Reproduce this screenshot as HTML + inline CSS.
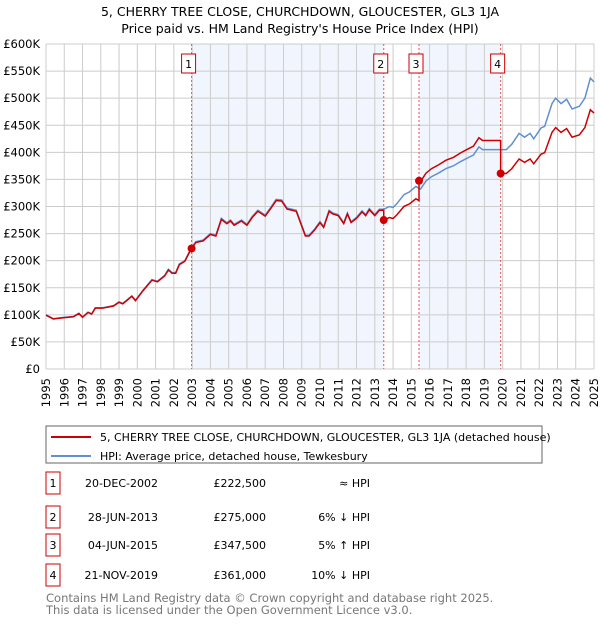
<!DOCTYPE html>
<html><head><meta charset="utf-8"><style>
body{margin:0;background:#fff;font-family:"Liberation Sans","DejaVu Sans",sans-serif;}
svg text{font-family:"DejaVu Sans","Liberation Sans",sans-serif;}
</style></head><body>
<svg id="c" width="600" height="620" viewBox="0 0 600 620">
<text x="300" y="16" text-anchor="middle" font-size="12.5">5, CHERRY TREE CLOSE, CHURCHDOWN, GLOUCESTER, GL3 1JA</text>
<text x="300" y="33" text-anchor="middle" font-size="12.5">Price paid vs. HM Land Registry's House Price Index (HPI)</text>
<g id="plot"></g>
<g>
<rect x="46" y="426" width="496" height="37" fill="#fff" stroke="#666"/>
<line x1="51" y1="437" x2="91" y2="437" stroke="#cc0000" stroke-width="2"/>
<text x="100" y="441" font-size="11">5, CHERRY TREE CLOSE, CHURCHDOWN, GLOUCESTER, GL3 1JA (detached house)</text>
<line x1="51" y1="456" x2="91" y2="456" stroke="#6090d0" stroke-width="2"/>
<text x="100" y="460" font-size="11">HPI: Average price, detached house, Tewkesbury</text>
</g>
<g id="tbl" font-size="11"></g>
<text x="46" y="602" font-size="11.5" fill="#777">Contains HM Land Registry data © Crown copyright and database right 2025.</text>
<text x="46" y="614" font-size="11.5" fill="#777">This data is licensed under the Open Government Licence v3.0.</text>
</svg>
<script>
const hpiYears=[1995.0,1995.4,1995.9,1996.5,1996.8,1997.0,1997.3,1997.5,1997.7,1998.1,1998.7,1999.0,1999.2,1999.7,1999.9,2000.3,2000.8,2001.1,2001.5,2001.7,2001.9,2002.1,2002.3,2002.6,2002.93,2003.2,2003.6,2004.0,2004.3,2004.6,2004.9,2005.1,2005.3,2005.7,2006.0,2006.3,2006.6,2007.0,2007.3,2007.6,2007.9,2008.2,2008.7,2009.2,2009.4,2009.7,2010.0,2010.2,2010.5,2010.7,2011.0,2011.3,2011.5,2011.7,2012.0,2012.3,2012.5,2012.7,2013.0,2013.25,2013.5,2013.8,2014.0,2014.2,2014.6,2014.9,2015.25,2015.5,2015.8,2016.1,2016.5,2016.9,2017.3,2017.7,2018.1,2018.4,2018.7,2018.9,2019.3,2019.75,2020.2,2020.5,2020.9,2021.2,2021.5,2021.7,2022.1,2022.3,2022.7,2022.9,2023.2,2023.5,2023.8,2024.2,2024.5,2024.8,2025.0];
const hpiValues=[100,93,95,97,103,96,105,102,113,113,117,124,121,135,127,145,165,162,173,184,178,178,194,200,222,235,238,250,247,278,270,275,267,275,267,282,293,284,298,313,312,297,293,247,247,258,272,263,293,288,285,270,288,272,280,292,285,296,285,295,295,300,298,305,322,327,337,332,347,355,362,370,375,383,390,395,410,405,405,405,405,415,435,428,435,425,445,448,490,500,490,498,480,485,500,537,530];
const saleLabels=["1","2","3","4"];
const saleYears=[2002.97,2013.49,2015.42,2019.89];
const salePrices=[222.5,275,347.5,361];
const saleDates=["20-DEC-2002","28-JUN-2013","04-JUN-2015","21-NOV-2019"];
const salePriceText=["£222,500","£275,000","£347,500","£361,000"];
const saleHpiText=["≈ HPI","6% ↓ HPI","5% ↑ HPI","10% ↓ HPI"];
const yTicks=[0,50,100,150,200,250,300,350,400,450,500,550,600];
const yTickLabels=["£0","£50K","£100K","£150K","£200K","£250K","£300K","£350K","£400K","£450K","£500K","£550K","£600K"];
const xTicks=[1995,1996,1997,1998,1999,2000,2001,2002,2003,2004,2005,2006,2007,2008,2009,2010,2011,2012,2013,2014,2015,2016,2017,2018,2019,2020,2021,2022,2023,2024,2025];

const NS="http://www.w3.org/2000/svg";
const X0=46,X1=594,Y0=369,Y1=44;
const xs=y=>X0+(y-1995)/30*(X1-X0);
const ys=v=>Y0-v/600*(Y0-Y1);
const plot=document.getElementById('plot');
function mk(t,a,p){const e=document.createElementNS(NS,t);for(const k in a)e.setAttribute(k,a[k]);(p||plot).appendChild(e);return e;}
function hpiAt(t){for(let i=1;i<hpiYears.length;i++){if(t<=hpiYears[i]){const f=(t-hpiYears[i-1])/(hpiYears[i]-hpiYears[i-1]);return hpiValues[i-1]+f*(hpiValues[i]-hpiValues[i-1]);}}return hpiValues[hpiValues.length-1];}
// shading
[[0,1],[2,3]].forEach(([a,b],i)=>{
 const r=mk('rect',{x:xs(saleYears[a]),y:Y1,width:xs(saleYears[b])-xs(saleYears[a]),height:Y0-Y1,fill:'#eef3fc',opacity:0.8});
 
 
});
// grid
xTicks.forEach(t=>{const l=mk('line',{x1:xs(t),x2:xs(t),y1:Y1,y2:Y0,stroke:'#cccccc'});
 
 
 const tx=mk('text',{x:0,y:0,'font-size':'11.5','text-anchor':'end',transform:`translate(${xs(t)+4},378) rotate(-90)`});tx.textContent=t;
 
 
});
yTicks.forEach((t,i)=>{const l=mk('line',{x1:X0,x2:X1,y1:ys(t),y2:ys(t),stroke:'#cccccc'});
 
 
 const tx=mk('text',{x:40,y:ys(t)+4,'font-size':'11.5','text-anchor':'end'});tx.textContent=yTickLabels[i];
 
 
});
// sale vlines
saleYears.forEach((s,i)=>{const l=mk('line',{x1:xs(s),x2:xs(s),y1:Y1,y2:Y0,stroke:'#ee5555','stroke-dasharray':'2,2'});
 
 
 const r=mk('rect',{x:xs(s)-10,y:54,width:14,height:19,fill:'#fff',stroke:'#cc0000'});
 
 
 const tx=mk('text',{x:xs(s)-3,y:68,'font-size':'11','text-anchor':'middle'});tx.textContent=saleLabels[i];
 
 
});
// HPI line
const hp=mk('polyline',{points:hpiYears.map((t,i)=>xs(t)+','+ys(hpiValues[i])).join(' '),fill:'none',stroke:'#6090d0','stroke-width':1.5});


// red line
let pts=[];let ratio=salePrices[0]/hpiAt(saleYears[0]);let si=0;
hpiYears.forEach((t,i)=>{
 while(si<saleYears.length&&saleYears[si]<=t){const s=saleYears[si];if(si>0)pts.push([s,hpiAt(s)*ratio]);ratio=salePrices[si]/hpiAt(s);pts.push([s,salePrices[si]]);si++;}
 pts.push([t,hpiValues[i]*ratio]);
});
const rp=mk('polyline',{points:pts.map(p=>xs(p[0])+','+ys(p[1])).join(' '),fill:'none',stroke:'#cc0000','stroke-width':1.5});


saleYears.forEach((s,i)=>{const c=mk('circle',{cx:xs(s),cy:ys(salePrices[i]),r:4,fill:'#cc0000'});
 
 });
// table
const tbl=document.getElementById('tbl');
const rowY=[483,517,545,575];
saleLabels.forEach((l,i)=>{const y=rowY[i];
 const r=mk('rect',{x:46,y:y-11,width:14,height:22,fill:'#fff',stroke:'#cc0000'},tbl);
 
 
 const a=mk('text',{x:53,y:y+4,'text-anchor':'middle'},tbl);a.textContent=l;
 
 
 const d=mk('text',{x:158,y:y+4,'text-anchor':'end'},tbl);d.textContent=saleDates[i];
 
 
 const p=mk('text',{x:266,y:y+4,'text-anchor':'end'},tbl);p.textContent=salePriceText[i];
 
 
 const h=mk('text',{x:370,y:y+4,'text-anchor':'end'},tbl);h.textContent=saleHpiText[i];
 
 
});
</script>
</body></html>
